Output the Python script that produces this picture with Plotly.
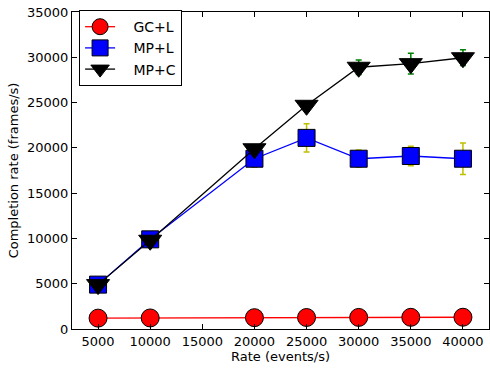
import plotly.graph_objects as go

rates = [5000, 10000, 20000, 25000, 30000, 35000, 40000]
gc_l = [1200, 1220, 1250, 1270, 1280, 1290, 1300]
gc_l_err = [60, 60, 60, 60, 60, 60, 60]
mp_l = [4900, 9900, 18800, 21100, 18800, 19100, 18800]
mp_l_err = [300, 300, 950, 1550, 950, 1070, 1730]
mp_c = [4900, 9800, 19900, 24700, 28900, 29300, 29950]
mp_c_err = [300, 200, 300, 250, 800, 1150, 870]
x_ticks = [5000, 10000, 15000, 20000, 25000, 30000, 35000, 40000]
y_ticks = [0, 5000, 10000, 15000, 20000, 25000, 30000, 35000]

font = "DejaVu Sans"
pad = "\u00a0\u00a0\u00a0"
fig = go.Figure()

def add(name, y, err, color, ecolor, symbol, size):
    fig.add_trace(go.Scatter(
        x=rates, y=y, name=pad + name, mode="lines+markers",
        line=dict(color=color, width=1.3),
        marker=dict(symbol=symbol, size=size, color=color,
                    line=dict(color="black", width=1)),
        error_y=dict(type="data", array=err, visible=True, color=ecolor,
                     thickness=1.5, width=3),
    ))

add("GC+L", gc_l, gc_l_err, "red", "black", "circle", 18)
add("MP+L", mp_l, mp_l_err, "blue", "#bfbf00", "square", 17)
add("MP+C", mp_c, mp_c_err, "black", "green", "triangle-down", 20)

axis_common = dict(showline=True, linecolor="black", linewidth=1, mirror="ticks",
                   ticks="inside", ticklen=5, tickcolor="black", showgrid=False,
                   zeroline=False, tickformat="d",
                   tickfont=dict(family=font, size=13, color="black"))

fig.update_layout(
    width=490, height=369,
    margin=dict(l=72, r=1, t=12, b=40),
    paper_bgcolor="white", plot_bgcolor="white",
    font=dict(family=font, size=13, color="black"),
    xaxis=dict(range=[2500, 42500], tickvals=x_ticks,
               title=dict(text="Rate (events/s)", font=dict(size=13), standoff=3),
               **axis_common),
    yaxis=dict(range=[0, 35000], tickvals=y_ticks,
               title=dict(text="Completion rate (frames/s)", font=dict(size=13), standoff=5),
               **axis_common),
    legend=dict(x=0.017, y=1.006, xanchor="left", yanchor="top",
                bordercolor="black", borderwidth=1, bgcolor="white",
                font=dict(family=font, size=14), tracegroupgap=0,
                itemsizing="trace", itemwidth=30),
    showlegend=True,
)

fig.write_html("out.html", config={"displayModeBar": False},
               post_script="document.body.style.margin='0';document.body.style.overflow='hidden';")
